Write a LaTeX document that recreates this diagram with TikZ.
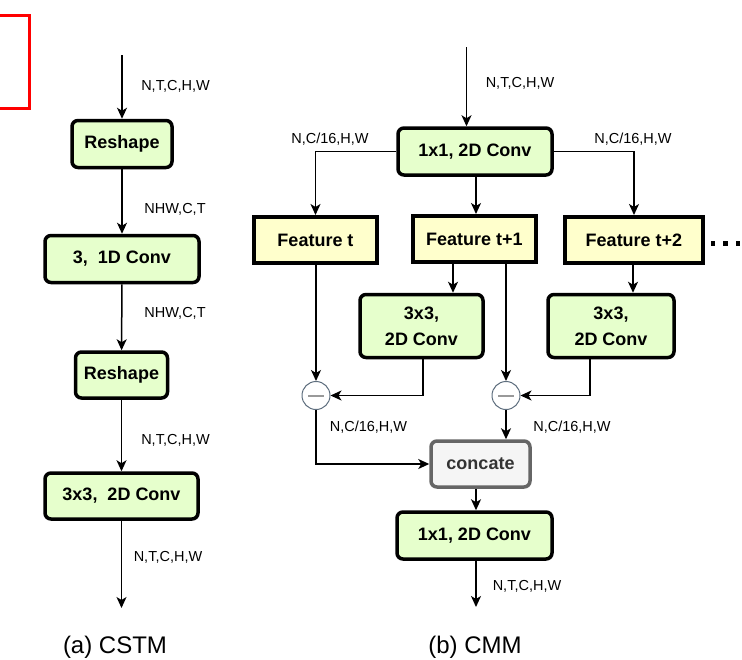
\documentclass[tikz,border=0pt]{standalone}
\usepackage{fontspec}
\setmainfont{Liberation Sans}
\usetikzlibrary{arrows.meta,calc}
\definecolor{gfill}{HTML}{E6FFCC}
\definecolor{yfill}{HTML}{FFFFCC}
\definecolor{cfill}{HTML}{F5F5F5}
\definecolor{cline}{HTML}{666666}
\definecolor{ctext}{HTML}{333333}
\definecolor{oline}{HTML}{5E6E7E}
\begin{document}
\begin{tikzpicture}[x=1pt,y=-1pt,
  greenbox/.style={draw=black,line width=3.5pt,fill=gfill,rounded corners=6pt,
    font=\fontsize{18}{26}\selectfont\bfseries,align=center,inner sep=0pt},
  featbox/.style={draw=black,line width=4pt,fill=yfill,
    font=\fontsize{18}{26}\selectfont\bfseries,align=center,inner sep=0pt,
    minimum width=123pt,minimum height=46pt},
  catbox/.style={draw=cline,line width=3.5pt,fill=cfill,rounded corners=6pt,
    text=ctext,font=\fontsize{18}{26}\selectfont\bfseries,inner sep=0pt,
    minimum width=99pt,minimum height=46pt},
  minuscirc/.style={circle,draw=oline,line width=1pt,fill=white,minimum size=28pt,inner sep=0pt},
  lbl/.style={font=\fontsize{14.5}{17}\selectfont,inner sep=0pt},
  captext/.style={font=\fontsize{24}{28}\selectfont,inner sep=0pt},
  conn/.style={line width=1.5pt,-{Stealth[length=11pt,width=10pt,inset=3pt]}}
]
\useasboundingbox (0,0) rectangle (742,659);
\draw[red,line width=3pt] (-5,15) rectangle (29,108);

% ---------- CSTM ----------
\coordinate (a0) at (122,55);
\node[greenbox,minimum width=100pt,minimum height=47pt] (rs1) at (122,144) {Reshape};
\node[greenbox,minimum width=154pt,minimum height=47pt] (c1d) at (122,259) {3,\ \ 1D Conv};
\node[greenbox,minimum width=92pt,minimum height=46pt] (rs2) at (121.5,375) {Reshape};
\node[greenbox,minimum width=153pt,minimum height=46pt] (c2d) at (121.5,496) {3x3,\ \ 2D Conv};
\coordinate (a1) at (121.5,608);
\draw[conn] (a0) -- (rs1);
\draw[conn] (rs1) -- (c1d);
\draw[conn] (c1d) -- (rs2);
\draw[conn] (rs2) -- (c2d);
\draw[conn] (c2d) -- (a1);
\node[lbl] (l1) at (175.5,86) {N,T,C,H,W};
\node[lbl] (l2) at (175,209.5) {NHW,C,T};
\node[lbl] (l3) at (175,313) {NHW,C,T};
\node[lbl] (l4) at (175.5,440) {N,T,C,H,W};
\node[lbl] (l5) at (168,557) {N,T,C,H,W};
\node[captext] (capa) at (115,647) {(a) CSTM};

% ---------- CMM ----------
\coordinate (b0) at (466.5,47);
\node[greenbox,minimum width=154pt,minimum height=47pt] (conv1) at (475,151.5) {1x1, 2D Conv};
\node[lbl] (l6) at (520,83.5) {N,T,C,H,W};
\draw[conn] (b0) -- (b0 |- conv1.north);

\node[featbox] (ft0) at (315.5,240) {Feature t};
\node[featbox] (ft1) at (474.5,239) {Feature t+1};
\node[featbox,minimum width=138pt] (ft2) at (634,240) {Feature t+2};

\draw[conn] (conv1.west) -| (ft0.north);
\draw[conn] (conv1.east) -| (ft2.north);
\coordinate (m1) at (476,0);
\draw[conn] (m1 |- conv1.south) -- (m1 |- ft1.north);
\node[lbl] (l7) at (330,139) {N,C/16,H,W};
\node[lbl] (l8) at (633,139) {N,C/16,H,W};

\foreach \i in {0,1,2}
  \fill (710.5+12.5*\i,241) rectangle ++(4.5,4.5);

\node[greenbox,minimum width=123pt,minimum height=63pt] (c3a) at (421.5,326) {3x3,\\2D Conv};
\node[greenbox,minimum width=126pt,minimum height=63pt] (c3b) at (611,326) {3x3,\\2D Conv};

\node[minuscirc] (o1) at (316,395.5) {};
\node[minuscirc] (o2) at (506,395.5) {};
\draw[line width=2pt,gray!80] ($(o1)+(-8,0)$) -- ($(o1)+(8,0)$);
\draw[line width=2pt,gray!80] ($(o2)+(-8,0)$) -- ($(o2)+(8,0)$);

\coordinate (x453) at (453,0);
\coordinate (x506) at (506,0);
\coordinate (x633) at (633,0);
\coordinate (x423) at (423,0);
\coordinate (x590) at (590,0);
\draw[conn] (x453 |- ft1.south) -- (x453 |- c3a.north);
\draw[conn] (x506 |- ft1.south) -- (o2.north);
\draw[conn] (x633 |- ft2.south) -- (x633 |- c3b.north);
\draw[conn] (ft0.south -| o1) -- (o1.north);
\draw[conn] (x423 |- c3a.south) |- (o1.east);
\draw[conn] (x590 |- c3b.south) |- (o2.east);

\node[catbox] (cat) at (480.5,464) {concate};
\draw[conn] (o1.south) |- (cat.west);
\draw[conn] (o2.south) -- (o2 |- cat.north);
\node[lbl] (l9) at (368.5,427) {N,C/16,H,W};
\node[lbl] (l10) at (572,427) {N,C/16,H,W};

\node[greenbox,minimum width=155pt,minimum height=47pt] (conv2) at (474.5,535.5) {1x1, 2D Conv};
\coordinate (b1) at (476,607);
\draw[conn] (b1 |- cat.south) -- (b1 |- conv2.north);
\draw[conn] (b1 |- conv2.south) -- (b1);
\node[lbl] (l11) at (527,586) {N,T,C,H,W};
\node[captext] (capb) at (475,647) {(b) CMM};
\end{tikzpicture}
\end{document}
